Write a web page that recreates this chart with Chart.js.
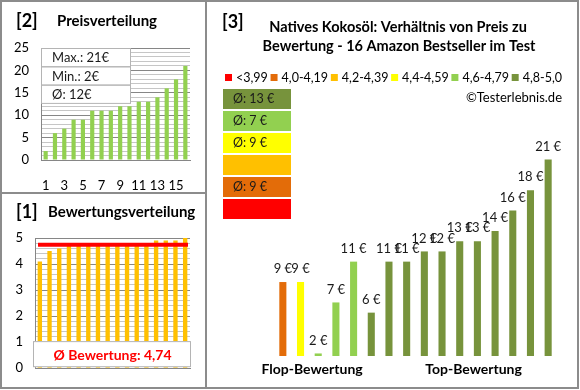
<!DOCTYPE html>
<html>
<head>
<meta charset="utf-8">
<script src="https://cdn.jsdelivr.net/npm/chart.js@4/dist/chart.umd.min.js"></script>
<style>
  body { margin: 0; background: #fff; }
  #wrap { position: relative; width: 580px; height: 390px; }
  .panel { position: absolute; box-sizing: border-box; border: 2px solid #8c8c8c; }
  canvas { position: absolute; }
</style>
</head>
<body>
<div id="wrap">
  <div class="panel" style="left:0;top:0;width:207px;height:194px"></div>
  <div class="panel" style="left:0;top:192px;width:207px;height:197px"></div>
  <div class="panel" style="left:205px;top:0;width:374px;height:389px"></div>
  <canvas id="priceChart" width="205" height="192" style="left:0;top:0"></canvas>
  <canvas id="ratingChart" width="205" height="195" style="left:0;top:193px"></canvas>
  <canvas id="compareChart" width="372" height="388" style="left:206px;top:0"></canvas>
</div>
<script>
// --- data ---
const productNumbers = ['1','2','3','4','5','6','7','8','9','10','11','12','13','14','15','16'];
const prices = [2, 6, 7, 9, 9, 11, 11, 11, 12, 12, 13, 13, 14, 16, 18, 21];
const priceTickLabels = [0, 5, 10, 15, 20, 25];

const ratings = [4.1, 4.5, 4.6, 4.7, 4.7, 4.8, 4.8, 4.8, 4.8, 4.8, 4.8, 4.8, 4.9, 4.9, 4.9, 5.0];
const ratingTickLabels = [0, 1, 2, 3, 4, 5];

// prices sorted by rating (same order as ratings)
const comparePrices = [9, 9, 2, 7, 11, 6, 11, 11, 12, 12, 13, 13, 14, 16, 18, 21];

const groupLabels = ['<3,99', '4,0-4,19', '4,2-4,39', '4,4-4,59', '4,6-4,79', '4,8-5,0'];
const groupMins = [0, 4.0, 4.2, 4.4, 4.6, 4.8];
const groupColors = ['#FF0000', '#E36C09', '#FFC000', '#FFFF00', '#92D050', '#77933C'];

const FONT = 'Lato';
Chart.defaults.font.family = FONT;
Chart.defaults.font.size = 12;
Chart.defaults.color = '#000';
Chart.defaults.animation = false;

const MAJOR = '#868686';
const MINOR = '#c6c6c6';

function groupOf(r) {
  let g = 0;
  groupMins.forEach((m, i) => { if (r >= m - 1e-9) g = i; });
  return g;
}

const avgRating = ratings.reduce((a, b) => a + b, 0) / ratings.length;
const avgPrice = prices.reduce((a, b) => a + b, 0) / prices.length;

// ---------- [2] Preisverteilung ----------
const priceOverlay = {
  id: 'priceOverlay',
  afterDraw(chart) {
    const ctx = chart.ctx;
    const a = chart.chartArea;
    ctx.save();
    ctx.textBaseline = 'middle';
    ctx.fillStyle = '#000';
    ctx.font = `bold 18px ${FONT}`;
    ctx.fillText('[2]', 16, 21);
    ctx.font = `bold 15px ${FONT}`;
    ctx.fillText('Preisverteilung', 57, 21);

    const rows = [
      'Max.: ' + Math.max(...prices) + '€',
      'Min.: ' + Math.min(...prices) + '€',
      'Ø: ' + Math.round(avgPrice) + '€'
    ];
    const w = 89, h = 18.3;
    ctx.fillStyle = '#fff';
    ctx.fillRect(a.left, a.top, w, h * 3);
    ctx.strokeStyle = '#b4b4b4';
    ctx.lineWidth = 1;
    rows.forEach((t, i) => {
      ctx.strokeRect(a.left + 0.5, a.top + 0.5 + i * h, w, h);
      ctx.fillStyle = '#1a1a1a';
      ctx.font = `13px ${FONT}`;
      ctx.fillText(t, a.left + 11, a.top + h * i + h / 2 + 1);
    });
    ctx.restore();
  }
};

new Chart(document.getElementById('priceChart'), {
  type: 'bar',
  data: {
    labels: productNumbers,
    datasets: [{
      data: prices,
      backgroundColor: '#92D050',
      barPercentage: 0.45,
      categoryPercentage: 1
    }]
  },
  options: {
    responsive: false,
    layout: { padding: { left: 5, right: 15, top: 48, bottom: 0 } },
    plugins: { legend: { display: false }, tooltip: { enabled: false } },
    scales: {
      x: {
        grid: { display: false },
        border: { color: MAJOR },
        ticks: {
          autoSkip: false, maxRotation: 0, padding: 10,
          font: { size: 13 },
          callback: (v, i) => (i % 2 === 0 ? productNumbers[i] : '')
        },
        afterFit: s => { s.height = 32; }
      },
      y: {
        min: 0, max: 25,
        border: { color: MAJOR },
        grid: {
          drawTicks: false,
          color: c => (priceTickLabels.includes(c.tick.value) ? MAJOR : MINOR)
        },
        ticks: {
          stepSize: 1, autoSkip: false, padding: 12,
          font: { size: 13 },
          callback: v => (priceTickLabels.includes(v) ? v : '')
        },
        afterFit: s => { s.width = 36; }
      }
    }
  },
  plugins: [priceOverlay]
});

// ---------- [1] Bewertungsverteilung ----------
const ratingOverlay = {
  id: 'ratingOverlay',
  afterDraw(chart) {
    const ctx = chart.ctx;
    const a = chart.chartArea;
    const y = chart.scales.y;
    ctx.save();
    ctx.textBaseline = 'middle';
    ctx.fillStyle = '#000';
    ctx.font = `bold 18px ${FONT}`;
    ctx.fillText('[1]', 16, 19);
    ctx.font = `bold 15px ${FONT}`;
    ctx.fillText('Bewertungsverteilung', 48, 19);

    // average line
    const ly = y.getPixelForValue(avgRating);
    ctx.strokeStyle = '#FF0000';
    ctx.lineWidth = 4;
    ctx.beginPath();
    ctx.moveTo(a.left + 3, ly);
    ctx.lineTo(a.right - 2, ly);
    ctx.stroke();

    // label box
    const top = y.getPixelForValue(1.04);
    ctx.fillStyle = '#fff';
    ctx.fillRect(a.left - 2, top, a.right - a.left + 2, a.bottom - top - 1);
    ctx.strokeStyle = '#b4b4b4';
    ctx.lineWidth = 1;
    ctx.strokeRect(a.left - 1.5, top + 0.5, a.right - a.left + 2, a.bottom - top - 2);
    ctx.fillStyle = '#FF0000';
    ctx.font = `bold 14px ${FONT}`;
    ctx.textAlign = 'center';
    ctx.fillText('Ø Bewertung: ' + avgRating.toFixed(2).replace('.', ','), (a.left + a.right) / 2, top + 14);
    ctx.restore();
  }
};

new Chart(document.getElementById('ratingChart'), {
  type: 'bar',
  data: {
    labels: productNumbers,
    datasets: [{
      data: ratings,
      backgroundColor: '#FFC000',
      barPercentage: 0.45,
      categoryPercentage: 1
    }]
  },
  options: {
    responsive: false,
    layout: { padding: { left: 5, right: 15, top: 45, bottom: 14 } },
    plugins: { legend: { display: false }, tooltip: { enabled: false } },
    scales: {
      x: {
        grid: { display: false },
        border: { color: MAJOR },
        ticks: { display: false },
        afterFit: s => { s.height = 0; }
      },
      y: {
        min: 0, max: 5,
        border: { color: MAJOR },
        grid: {
          drawTicks: false,
          color: c => (Number.isInteger(c.tick.value) ? MAJOR : MINOR)
        },
        ticks: {
          stepSize: 0.2, autoSkip: false, padding: 12,
          font: { size: 13 },
          callback: v => (ratingTickLabels.includes(v) ? v : '')
        },
        afterFit: s => { s.width = 30; }
      }
    }
  },
  plugins: [ratingOverlay]
});

// ---------- [3] Preis zu Bewertung ----------
const barGroups = ratings.map(groupOf);

const compareOverlay = {
  id: 'compareOverlay',
  afterDatasetsDraw(chart) {
    const ctx = chart.ctx;
    const meta = chart.getDatasetMeta(0);
    ctx.save();
    ctx.fillStyle = '#1a1a1a';
    ctx.font = `13px ${FONT}`;
    ctx.textAlign = 'center';
    ctx.textBaseline = 'middle';
    meta.data.forEach((bar, i) => {
      ctx.fillText(comparePrices[i] + ' €', bar.x, bar.y - 13);
    });
    ctx.restore();
  },
  afterDraw(chart) {
    const ctx = chart.ctx;
    const meta = chart.getDatasetMeta(0);
    ctx.save();
    ctx.textBaseline = 'middle';
    ctx.fillStyle = '#000';
    ctx.font = `bold 18px ${FONT}`;
    ctx.fillText('[3]', 16, 22);
    ctx.font = `bold 14.5px ${FONT}`;
    ctx.textAlign = 'center';
    ctx.fillText('Natives Kokosöl: Verhältnis von Preis zu', 192, 27);
    ctx.fillText('Bewertung - 16 Amazon Bestseller im Test', 193, 46);

    // legend row
    ctx.textAlign = 'left';
    ctx.font = `12.5px ${FONT}`;
    const sq = 7, startX = 19, endX = 356;
    const widths = groupLabels.map(t => sq + 4 + ctx.measureText(t).width);
    const gap = (endX - startX - widths.reduce((a, b) => a + b, 0)) / (groupLabels.length - 1);
    let x = startX;
    groupLabels.forEach((t, i) => {
      ctx.fillStyle = groupColors[i];
      ctx.fillRect(x, 74, sq, sq);
      ctx.fillStyle = '#000';
      ctx.fillText(t, x + sq + 4, 78);
      x += widths[i] + gap;
    });

    ctx.textAlign = 'right';
    ctx.font = `13px ${FONT}`;
    ctx.fillText('©Testerlebnis.de', 356, 98);

    // average price per rating group, best group on top
    ctx.textAlign = 'left';
    ctx.font = `12.5px ${FONT}`;
    for (let k = 0; k < groupColors.length; k++) {
      const g = groupColors.length - 1 - k;
      const top = 89 + k * 22;
      ctx.fillStyle = groupColors[g];
      ctx.fillRect(17, top, 68, 20);
      const inGroup = comparePrices.filter((p, i) => barGroups[i] === g);
      if (inGroup.length) {
        const avg = Math.round(inGroup.reduce((a, b) => a + b, 0) / inGroup.length);
        ctx.fillStyle = '#1a1a1a';
        ctx.fillText('Ø: ' + avg + ' €', 27, top + 10);
      }
    }

    // flop / top captions under the bars
    ctx.fillStyle = '#000';
    ctx.font = `bold 14px ${FONT}`;
    ctx.textAlign = 'center';
    const d = meta.data;
    ctx.fillText('Flop-Bewertung', (d[0].x + d[5].x) / 2 - 15, 369);
    ctx.fillText('Top-Bewertung', (d[10].x + d[11].x) / 2 + 5, 369);
    ctx.restore();
  }
};

new Chart(document.getElementById('compareChart'), {
  type: 'bar',
  data: {
    labels: productNumbers,
    datasets: [{
      data: comparePrices,
      backgroundColor: barGroups.map(g => groupColors[g]),
      barPercentage: 0.4,
      categoryPercentage: 1
    }]
  },
  options: {
    responsive: false,
    layout: { padding: { left: 68, right: 21, top: 129, bottom: 32 } },
    plugins: { legend: { display: false }, tooltip: { enabled: false } },
    scales: {
      x: { display: false },
      y: { display: false, min: 1.75, max: 24 }
    }
  },
  plugins: [compareOverlay]
});
</script>
</body>
</html>
